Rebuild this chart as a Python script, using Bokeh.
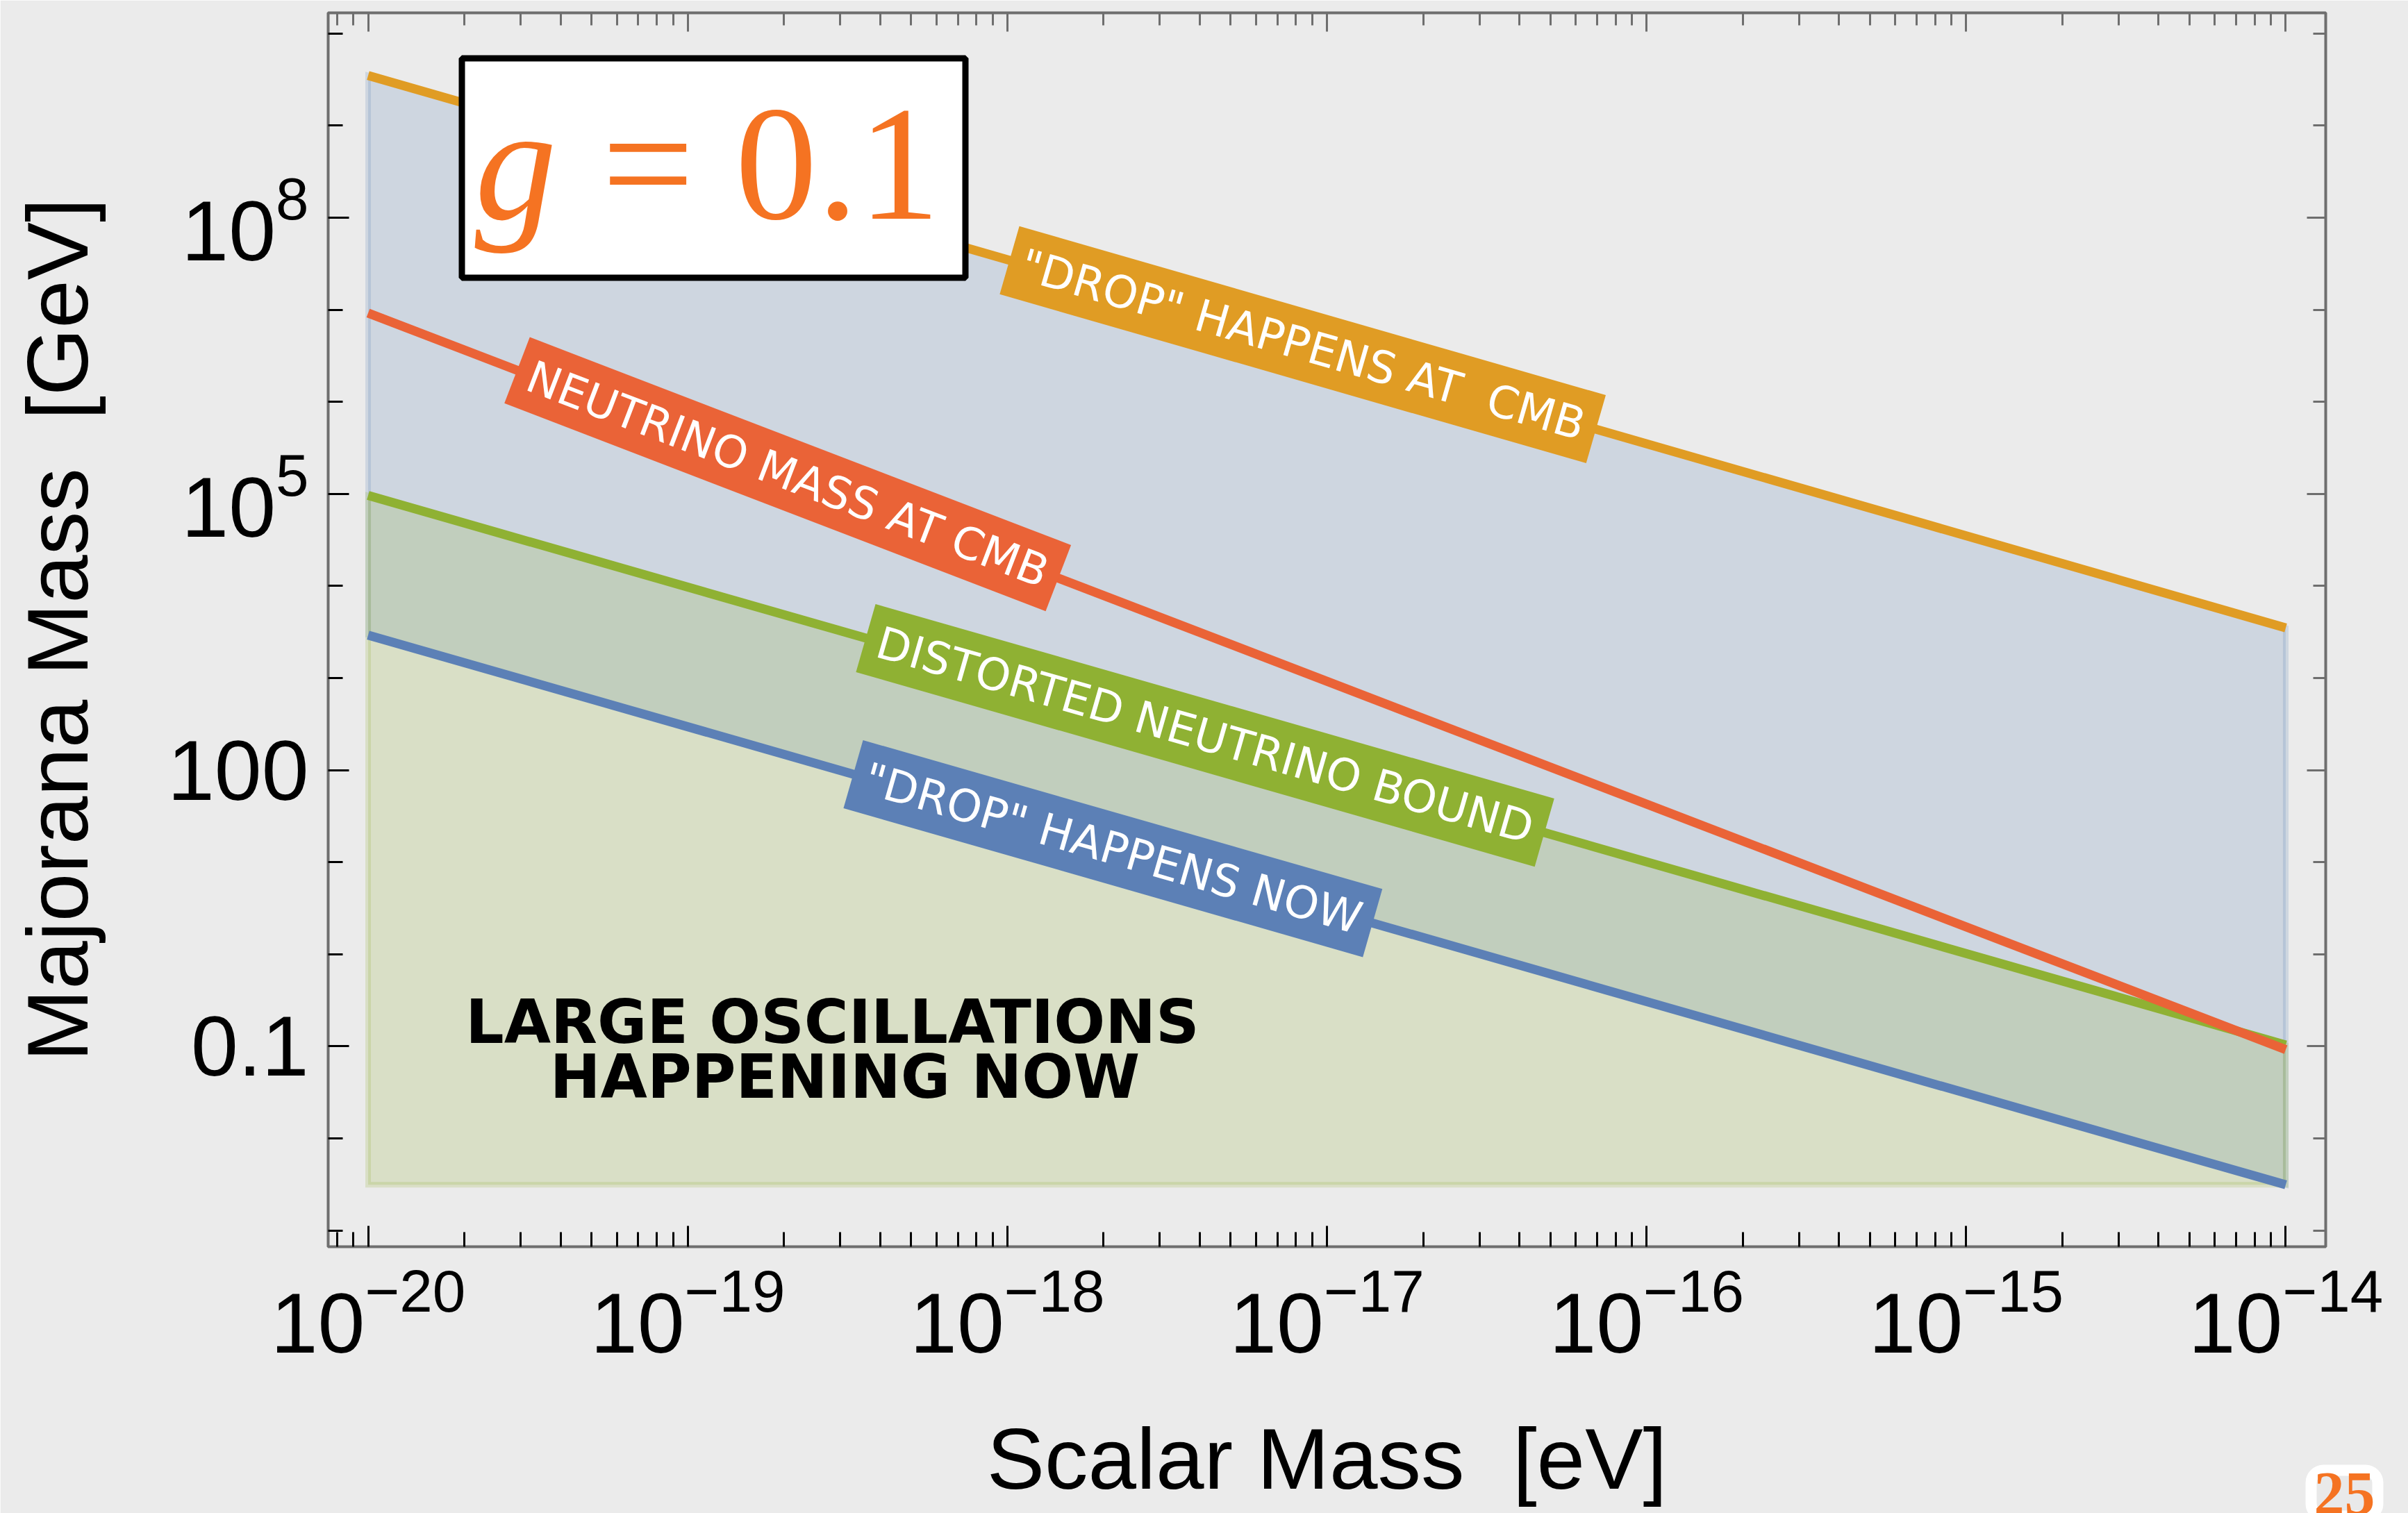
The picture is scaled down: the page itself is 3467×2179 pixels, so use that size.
import math

from bokeh.core.properties import value
from bokeh.embed import file_html
from bokeh.models import (BoxAnnotation, ColumnDataSource, CustomJSTickFormatter,
                          FixedTicker, Label, LogAxis, LogTickFormatter)
from bokeh.plotting import figure
from bokeh.resources import INLINE

# ---------------------------------------------------------------- data
# scalar mass at the two ends of each curve [eV]
scalar_mass = [1e-20, 1e-14]

# Majorana mass [GeV] along each curve, at the two scalar-mass ends
drop_at_cmb = [3.5e9, 3.5e3]
nu_mass_at_cmb = [9.2e6, 9.2e-2]
distorted_bound = [9.6e4, 1.03e-1]
drop_now = [2.92e3, 3.13e-3]

NBSP = "\u00a0"
curve_labels = ['"DROP" HAPPENS AT' + NBSP + ' CMB', "NEUTRINO MASS AT CMB",
                "DISTORTED NEUTRINO BOUND", '"DROP" HAPPENS NOW']
region_label = ["LARGE OSCILLATIONS", "HAPPENING NOW"]
coupling_text = ["g", "= 0.1"]
page_number = "25"
x_title = "Scalar Mass" + NBSP + " [eV]"
y_title = "Majorana Mass" + NBSP + " [GeV]"

# axis ticks
x_major = [1e-20, 1e-19, 1e-18, 1e-17, 1e-16, 1e-15, 1e-14]
x_minor = [k * 10.0 ** e for e in range(-21, -14) for k in range(2, 10)]
y_major = [1e-1, 1e2, 1e5, 1e8]
y_minor = [10.0 ** e for e in range(-3, 11) if e not in (-1, 2, 5, 8)]

# ---------------------------------------------------------------- styles
BG = "#ebebeb"
FRAME = "#6e6e6e"
ORANGE = "#e09c24"
RED = "#ea6337"
GREEN = "#8fb133"
BLUE = "#5c80b6"
TITLE_ORANGE = "#f57322"

W, H = 3467, 2179
FL, FR, FT, FB = 472, 3348, 18, 1795          # plotting frame edges (px)
X_LOG = (-20.125, -13.875)
Y_LOG = (-3.177, 10.224)
x_range = [10 ** X_LOG[0], 10 ** X_LOG[1]]
y_range = [10 ** Y_LOG[0], 10 ** Y_LOG[1]]

PPD_X = (FR - FL) / (X_LOG[1] - X_LOG[0])       # px per decade
PPD_Y = (FB - FT) / (Y_LOG[1] - Y_LOG[0])


def px_x(px):
    return 10 ** (X_LOG[0] + (px - FL) / PPD_X)


def px_y(py):
    return 10 ** (Y_LOG[1] - (py - FT) / PPD_Y)


def log_slope(curve):
    return ((math.log10(curve[1]) - math.log10(curve[0]))
            / (math.log10(scalar_mass[1]) - math.log10(scalar_mass[0])))


def on_curve(curve, x):
    lx0 = math.log10(scalar_mass[0])
    return 10 ** (math.log10(curve[0]) + log_slope(curve) * (math.log10(x) - lx0))


p = figure(width=W, height=H, x_axis_type="log", y_axis_type="log",
           x_range=x_range, y_range=y_range, title=None,
           output_backend="svg", toolbar_location=None,
           min_border_left=FL, min_border_right=W - FR,
           min_border_top=FT, min_border_bottom=H - FB,
           background_fill_color=BG, border_fill_color=BG,
           outline_line_color=FRAME, outline_line_width=4)
p.xgrid.visible = False
p.ygrid.visible = False

x_ticker = FixedTicker(ticks=x_major, minor_ticks=x_minor)
y_ticker = FixedTicker(ticks=y_major, minor_ticks=y_minor)

xa = p.xaxis[0]
ya = p.yaxis[0]
xa.ticker = x_ticker
ya.ticker = y_ticker
xa.formatter = LogTickFormatter()
ya.formatter = LogTickFormatter(min_exponent=3)

for ax in (xa, ya):
    ax.axis_line_color = None
    ax.major_tick_in = 30
    ax.major_tick_out = 0
    ax.minor_tick_in = 21
    ax.minor_tick_out = 0
    ax.major_tick_line_color = "black"
    ax.minor_tick_line_color = "black"
    ax.major_tick_line_width = 3
    ax.minor_tick_line_width = 3
    ax.major_label_text_font = "Liberation Sans"
    ax.major_label_text_font_size = "122px"
    ax.major_label_text_color = "black"
    ax.axis_label_text_font = "Liberation Sans"
    ax.axis_label_text_font_size = "125px"
    ax.axis_label_text_font_style = "normal"
    ax.axis_label_text_color = "black"
    ax.major_label_standoff = 28

xa.axis_label = x_title
ya.axis_label = y_title
xa.axis_label_standoff = 80
ya.axis_label_standoff = 86

# tick-only axes on the opposite sides
blank = CustomJSTickFormatter(code="return ''")
for side, ticker in (("above", x_ticker), ("right", y_ticker)):
    ax = LogAxis(ticker=ticker, formatter=blank)
    ax.axis_line_color = None
    ax.major_tick_in = 27
    ax.major_tick_out = 0
    ax.minor_tick_in = 18
    ax.minor_tick_out = 0
    ax.major_tick_line_color = FRAME
    ax.minor_tick_line_color = FRAME
    ax.major_tick_line_width = 3
    ax.minor_tick_line_width = 3
    ax.major_label_standoff = 0
    ax.major_label_text_font_size = "1px"
    p.add_layout(ax, side)

# ---------------------------------------------------------------- shaded regions
x0, x1 = scalar_mass
p.patch([x0, x1, x1, x0],
        [drop_at_cmb[0], drop_at_cmb[1], drop_now[1], drop_now[0]],
        fill_color=BLUE, fill_alpha=0.2, line_color=BLUE, line_alpha=0.2,
        line_width=8, line_join="miter")
floor = drop_now[1]
p.patch([x0, x1, x1, x0],
        [distorted_bound[0], distorted_bound[1], floor, floor],
        fill_color=GREEN, fill_alpha=0.2, line_color=GREEN, line_alpha=0.2,
        line_width=8, line_join="miter")

# ---------------------------------------------------------------- curves
curves = [drop_now, distorted_bound, nu_mass_at_cmb, drop_at_cmb]
curve_colors = [BLUE, GREEN, RED, ORANGE]
for c, col in zip(curves, curve_colors):
    p.line(scalar_mass, c, line_color=col, line_width=13, line_cap="butt")

# ---------------------------------------------------------------- banner labels along the curves
banner_curves = [drop_at_cmb, nu_mass_at_cmb, distorted_bound, drop_now]
banner_colors = [ORANGE, RED, GREEN, BLUE]
banner_start_px = [1453, 744, 1246, 1228]
bx, by, ba = [], [], []
for c, sx in zip(banner_curves, banner_start_px):
    xv = px_x(sx)
    bx.append(xv)
    by.append(on_curve(c, xv))
    ba.append(math.atan(log_slope(c) * PPD_Y / PPD_X))

banner_src = ColumnDataSource(dict(x=bx, y=by, text=curve_labels,
                                   angle=ba, color=banner_colors))
p.text(x="x", y="y", text="text", angle="angle", source=banner_src,
       text_color="white", text_font=value("DejaVu Sans"),
       text_font_size="64px", text_align="left", text_baseline="middle",
       background_fill_color="color", background_fill_alpha=1.0,
       padding=dict(left=18, right=18, top=14, bottom=14))

# ---------------------------------------------------------------- region label
region_src = ColumnDataSource(dict(x=[px_x(1198), px_x(1216)],
                                   y=[px_y(1471), px_y(1550)],
                                   text=region_label))
p.text(x="x", y="y", text="text", source=region_src, text_color="black",
       text_font=value("DejaVu Sans"), text_font_style="bold",
       text_font_size="87px", text_align="center", text_baseline="middle")

# ---------------------------------------------------------------- coupling box
p.add_layout(BoxAnnotation(left=px_x(664.5), right=px_x(1389.5),
                           top=px_y(83.5), bottom=px_y(399.5),
                           fill_color="white", fill_alpha=1.0,
                           line_color="black", line_alpha=1.0, line_width=9))
p.add_layout(Label(x=px_x(683), y=px_y(235), text=coupling_text[0],
                   text_font="Liberation Serif", text_font_style="italic",
                   text_font_size="236px", text_color=TITLE_ORANGE,
                   text_align="left", text_baseline="middle"))
p.add_layout(Label(x=px_x(866), y=px_y(235), text=coupling_text[1],
                   text_font="Liberation Serif", text_font_style="normal",
                   text_font_size="236px", text_color=TITLE_ORANGE,
                   text_align="left", text_baseline="middle"))

# ---------------------------------------------------------------- page number (outside the frame)
p.add_layout(Label(x=px_x(3327), y=px_y(2117), text=page_number,
                   text_font="Liberation Serif", text_font_style="bold",
                   text_font_size="88px", text_color=TITLE_ORANGE,
                   text_align="left", text_baseline="top",
                   background_fill_color="#e9e9e9", background_fill_alpha=1.0,
                   border_line_color="white", border_line_width=16,
                   border_radius=18, padding=4), "right")

open("out.html", "w").write(file_html(p, INLINE))
